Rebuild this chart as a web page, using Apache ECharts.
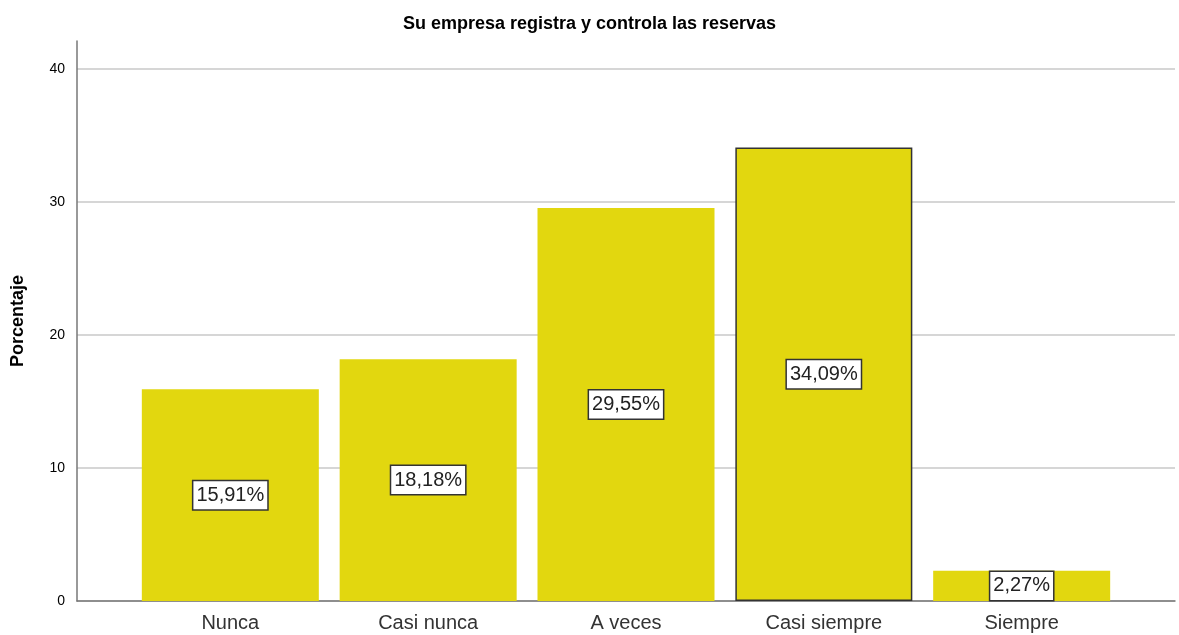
<!DOCTYPE html>
<html>
<head>
<meta charset="utf-8">
<script src="https://cdn.jsdelivr.net/npm/echarts@6/dist/echarts.min.js"></script>
<style>
  html, body { margin: 0; padding: 0; background: #fff; }
  #chart { width: 1179px; height: 635px; }
</style>
</head>
<body>
<div id="chart"></div>
<script>
const CATEGORIES = ['Nunca', 'Casi nunca', 'A veces', 'Casi siempre', 'Siempre']
const PERCENTS = [15.91, 18.18, 29.55, 34.09, 2.27]
const Y_TICKS = [0, 10, 20, 30, 40]

let chart = echarts.init(document.getElementById('chart'))

// the 4th bar has a dark outline in the original
let barData = PERCENTS.map((v, i) => {
  let item = { value: [i, v] }
  if (i === 3) item.itemStyle = { borderColor: '#333', borderWidth: 1.5 }
  return item
})

chart.setOption({
  animation: false,
  title: {
    text: 'Su empresa registra y controla las reservas',
    left: 'center',
    top: 10,
    textStyle: { fontFamily: 'Liberation Sans', fontSize: 18, fontWeight: 'bold', color: '#000' }
  },
  grid: { left: 77, right: 4, top: 41, bottom: 34 },
  xAxis: {
    type: 'value',
    min: -0.775,
    max: 4.775,
    axisLine: { show: true, onZero: false, lineStyle: { color: '#777', width: 1.5 } },
    axisTick: { show: false },
    splitLine: { show: false },
    axisLabel: {
      customValues: [0, 1, 2, 3, 4],
      formatter: v => CATEGORIES[Math.round(v)],
      fontFamily: 'Liberation Sans',
      fontSize: 20,
      color: '#333',
      margin: 12
    }
  },
  yAxis: {
    type: 'value',
    min: 0,
    max: 42.1,
    interval: 10,
    name: 'Porcentaje',
    nameLocation: 'middle',
    nameGap: 50,
    nameTextStyle: { fontFamily: 'Liberation Sans', fontSize: 18, fontWeight: 'bold', color: '#000' },
    axisLine: { show: true, onZero: false, lineStyle: { color: '#777', width: 1.5 } },
    axisTick: { show: false },
    splitLine: { showMaxLine: false, lineStyle: { color: '#c8c8c8', width: 1.5 } },
    axisLabel: {
      customValues: Y_TICKS,
      fontFamily: 'Liberation Sans',
      fontSize: 14,
      color: '#000',
      margin: 12
    }
  },
  series: [{
    type: 'bar',
    data: barData,
    barWidth: 177,
    itemStyle: { color: '#e2d70f' },
    label: {
      show: true,
      position: 'inside',
      formatter: p => p.value[1].toFixed(2).replace('.', ',') + '%',
      fontFamily: 'Liberation Sans',
      fontSize: 20,
      color: '#222',
      backgroundColor: '#fff',
      borderColor: '#333',
      borderWidth: 1.5,
      padding: [5, 3, 3, 3]
    }
  }]
})
</script>
</body>
</html>
